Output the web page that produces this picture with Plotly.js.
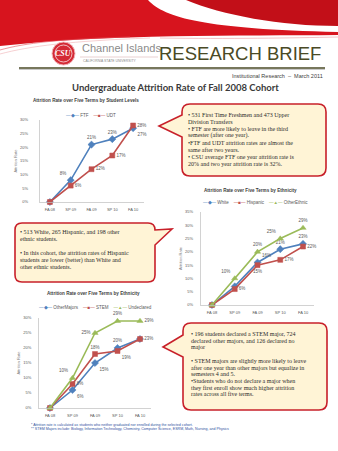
<!DOCTYPE html>
<html><head><meta charset="utf-8">
<script src="https://cdn.plot.ly/plotly-3.0.1.min.js"></script>
<style>html,body{margin:0;padding:0;background:#fff}#chart{width:338px;height:451px}</style>
</head><body><div id="chart"></div>
<script>
// ---------- DATA ----------
const terms = ['FA 08','SP 09','FA 09','SP 10','FA 10'];
const levelNames = ['FTF','UDT'];
const levelFTF = [0, 8, 21, 23, 27];
const levelUDT = [0, 6, 12, 17, 28];
const ethNames = ['White','Hispanic','OtherEthnic'];
const ethWhite = [0, 7, 16, 21, 23];
const ethHispanic = [0, 6, 15, 17, 22];
const ethOther = [0, 10, 20, 25, 29];
const majNames = ['OtherMajors','STEM','Undeclared'];
const majOther = [0, 6, 15, 20, 23];
const majSTEM = [0, 8, 18, 19, 23];
const majUndeclared = [0, 10, 25, 29, 29];

const box1Lines = ['• 531 First Time Freshmen and 473 Upper','Division Transfers','• FTF are more likely to leave in the third','semester (after one year).','•FTF and UDT attrition rates are almost the','same after two years.','• CSU average FTF one year attrition rate is','20% and two year attrition rate is 32%.'];
const box2Lines = ['• 513 White, 265 Hispanic, and 198 other','ethnic students.','','• In this cohort, the attrition rates of Hispanic','students are lower (better) than White and','other ethnic students.'];
const box3Lines = ['• 196 students declared a STEM major, 724','declared other majors, and 126 declared no','major','','• STEM majors are slightly more likely to leave','after one year than other majors but equalize in','semesters 4 and 5.','•Students who do not declare a major when','they first enroll show much higher attrition','rates across all five terms.'];
const footLines = ['* Attrition rate is calculated as students who neither graduated nor enrolled during the selected cohort.','** STEM Majors include: Biology, Information Technology, Chemistry, Computer Science, ESRM, Math, Nursing, and Physics'];

// ---------- HELPERS ----------
const W=338,H=451;
const px=x=>x/W, py=y=>1-y/H;
const conv=s=>s.replace(/(-?[\d.]+),(-?[\d.]+)/g,(m,a,b)=>px(+a).toFixed(5)+','+py(+b).toFixed(5));
const BLUE='#4F81BD', RED='#C0504D', GREEN='#9BBB59';
const sans='Liberation Sans, Arial, sans-serif';
const serif='Liberation Serif, Times New Roman, serif';
const lab=(vals,show)=>vals.map((v,i)=>show[i]?v+'%':'');

function trace(name,vals,color,symbol,xa,ya,show,pos){
  return {x:terms,y:vals,name:name,type:'scatter',mode:'lines+markers+text',xaxis:xa,yaxis:ya,
    line:{color:color,width:1.6},marker:{color:color,symbol:symbol,size:symbol==='square'?5:5.5,line:{color:color,width:0.5}},
    text:lab(vals,show),textposition:pos,textfont:{size:4.5,color:'#595959',family:sans},
    showlegend:false,cliponaxis:false,hoverinfo:'skip'};
}
const data=[
  trace(levelNames[0],levelFTF,BLUE,'diamond','x','y',[0,1,1,1,1],['top center','top left','top center','top center','bottom right']),
  trace(levelNames[1],levelUDT,RED,'square','x','y',[0,1,1,1,1],['top center','middle right','middle right','middle right','middle right']),
  trace(ethNames[0],ethWhite,BLUE,'diamond','x2','y2',[0,0,1,1,1],['top center','top center','top right','top center','top center']),
  trace(ethNames[1],ethHispanic,RED,'square','x2','y2',[0,1,1,1,1],['top center','middle right','bottom center','middle right','middle right']),
  trace(ethNames[2],ethOther,GREEN,'triangle-up','x2','y2',[0,1,1,1,1],['top center','top left','top center','top left','top center']),
  trace(majNames[0],majOther,BLUE,'diamond','x3','y3',[0,1,1,1,0],['top center','bottom right','bottom right','top center','top center']),
  trace(majNames[1],majSTEM,RED,'square','x3','y3',[0,1,1,1,1],['top center','middle right','top center','bottom right','middle right']),
  trace(majNames[2],majUndeclared,GREEN,'triangle-up','x3','y3',[0,1,1,1,1],['top center','top left','middle left','top center','middle right'])
];

function xax(x0,x1){return {domain:[px(x0),px(x1)],type:'category',range:[-0.5,4.5],showgrid:false,zeroline:false,
  showline:true,linecolor:'#bfbfbf',linewidth:0.7,ticks:'',ticklabelstandoff:3,tickfont:{size:4,color:'#595959',family:sans},fixedrange:true};}
function yax(y0,y1,max,stand){return {domain:[py(y1),py(y0)],range:[0,max],dtick:5,ticksuffix:'%',showgrid:false,zeroline:false,
  showline:true,linecolor:'#bfbfbf',linewidth:0.7,ticks:'',ticklabelstandoff:stand,tickfont:{size:4,color:'#595959',family:sans},
  title:{text:'Attrition Rate',font:{size:4,color:'#7f7f7f',family:sans},standoff:2},fixedrange:true};}

function calloutPath(x0,y0,x1,y1,r,side,tx,ty,b0,b1){
  let p=`M${x0+r},${y0} L${x1-r},${y0} Q${x1},${y0} ${x1},${y0+r} `;
  if(side==='right') p+=`L${x1},${b0} L${tx},${ty} L${x1},${b1} `;
  p+=`L${x1},${y1-r} Q${x1},${y1} ${x1-r},${y1} L${x0+r},${y1} Q${x0},${y1} ${x0},${y1-r} `;
  if(side==='left') p+=`L${x0},${b1} L${tx},${ty} L${x0},${b0} `;
  p+=`L${x0},${y0+r} Q${x0},${y0} ${x0+r},${y0} Z`;
  return conv(p);
}
const boxStyle={type:'path',xref:'paper',yref:'paper',fillcolor:'#FFF4D6',line:{color:'#C8202A',width:1.6},layer:'above'};

const shapes=[
  // header swooshes
  {type:'path',xref:'paper',yref:'paper',path:conv('M0,0 L148,0 C165,18 205,29 338,32 L338,35 C240,36 110,34 0,46 Z'),fillcolor:'#D7141E',line:{width:0}},
  {type:'path',xref:'paper',yref:'paper',path:conv('M186,0 L338,0 L338,26 C280,26 222,15 186,0 Z'),fillcolor:'#C20F18',line:{width:0}},
  {type:'path',xref:'paper',yref:'paper',path:conv('M0,50 C25,43 60,39 130,37'),line:{color:'#E0505A',width:0.6}},
  {type:'path',xref:'paper',yref:'paper',path:conv('M0,54 C30,46 70,41 150,38'),line:{color:'#EDA0A5',width:0.5}},
  {type:'path',xref:'paper',yref:'paper',path:conv('M160,38 C230,39 290,38 338,37'),line:{color:'#E88088',width:0.5}},
  // logo
  {type:'circle',xref:'paper',yref:'paper',x0:px(52),x1:px(75),y0:py(65),y1:py(42),fillcolor:'#D42A35',line:{color:'#F2B8BC',width:1}},
  {type:'circle',xref:'paper',yref:'paper',x0:px(55),x1:px(72),y0:py(62),y1:py(45),fillcolor:'rgba(0,0,0,0)',line:{color:'#ffffff',width:0.7}},
  {type:'line',xref:'paper',yref:'paper',x0:px(80),x1:px(158),y0:py(57),y1:py(57),line:{color:'#d0a0a0',width:0.5}},
  // separator
  {type:'line',xref:'paper',yref:'paper',x0:px(19),x1:px(325),y0:py(69.5),y1:py(69.5),line:{color:'#c8c8c8',width:1.2}},
  {type:'line',xref:'paper',yref:'paper',x0:px(19),x1:px(325),y0:py(68),y1:py(68),line:{color:'#4a4a26',width:1.6}},
  // callouts
  Object.assign({path:calloutPath(182,104,326,176,8,'left',159,126,115,137)},boxStyle),
  Object.assign({path:calloutPath(15,223,155,282,7,'right',172,229,230,245)},boxStyle),
  Object.assign({path:calloutPath(183,323,327,410,8,'left',163,347,335,357)},boxStyle)
];

const ann=[];
function txt(t,x,y,size,color,family,anchor,extra){ann.push(Object.assign({text:t,x:px(x),y:py(y),xref:'paper',yref:'paper',showarrow:false,
  xanchor:anchor||'left',yanchor:'middle',font:{size:size,color:color,family:family}},extra||{}));}
// header text
txt('<i><b>CSU</b></i>',63.5,53.5,8,'#ffffff',serif,'center');
txt('Channel Islands',80,48,11,'#8a8a8a',sans,'left');
txt('CALIFORNIA STATE UNIVERSITY',81,61,3.4,'#8a8a8a',sans,'left');
txt('RESEARCH BRIEF',323,53,18.5,'#4a4a26',sans,'right');
txt('Institutional Research  –  March 2011',325,76,5.5,'#404040',sans,'right');
txt('<b>Undergraduate Attrition Rate of Fall 2008 Cohort</b>',175,88,9.5,'#3a3a3a','Liberation Sans Narrow, Lato, sans-serif','center');
// chart titles
txt('<b>Attrition Rate over Five Terms by Student Levels</b>',86,101,4.6,'#404040',sans,'center');
txt('<b>Attrition Rate over Five Terms by Ethnicity</b>',250,190,4.6,'#404040',sans,'center');
txt('<b>Attrition Rate over Five Terms by Ethnicity</b>',94,293,4.6,'#404040',sans,'center');
// legends
const sw=(c,s)=>`<span style="color:${c}">—${s}—</span>`;
txt(`${sw(BLUE,'◆')} ${levelNames[0]}    ${sw(RED,'■')} ${levelNames[1]}`,91,115,4.5,'#595959',sans,'center');
txt(`${sw(BLUE,'◆')} ${ethNames[0]}    ${sw(RED,'■')} ${ethNames[1]}    ${sw(GREEN,'▲')} ${ethNames[2]}`,255,202,4.5,'#595959',sans,'center');
txt(`${sw(BLUE,'◆')} ${majNames[0]}    ${sw(RED,'■')} ${majNames[1]}    ${sw(GREEN,'▲')} ${majNames[2]}`,95,307,4.5,'#595959',sans,'center');
// callout text
box1Lines.forEach((l,i)=>txt(l,186,115+i*7,6,'#2b2b2b',serif,'left'));
box2Lines.forEach((l,i)=>txt(l,18,232+i*7,6,'#2b2b2b',serif,'left'));
box3Lines.forEach((l,i)=>txt(l,189,334+i*6.7,6,'#2b2b2b',serif,'left'));
footLines.forEach((l,i)=>txt(l,29,424.5+i*4.5,3.6,'#3050a0',sans,'left'));

const layout={width:W,height:H,margin:{l:0,r:0,t:0,b:0},paper_bgcolor:'#ffffff',plot_bgcolor:'rgba(0,0,0,0)',showlegend:false,
  xaxis:xax(39.5,143.5), yaxis:yax(120,202,30,10),
  xaxis2:Object.assign(xax(200.6,314.4),{anchor:'y2'}), yaxis2:Object.assign(yax(212,305,35,6),{anchor:'x2'}),
  xaxis3:Object.assign(xax(38.75,151.25),{anchor:'y3'}), yaxis3:Object.assign(yax(318,408,30,6),{anchor:'x3'}),
  shapes:shapes, annotations:ann};
layout.xaxis.anchor='y'; layout.yaxis.anchor='x';
Plotly.newPlot('chart',data,layout,{displayModeBar:false,staticPlot:true});
</script></body></html>
